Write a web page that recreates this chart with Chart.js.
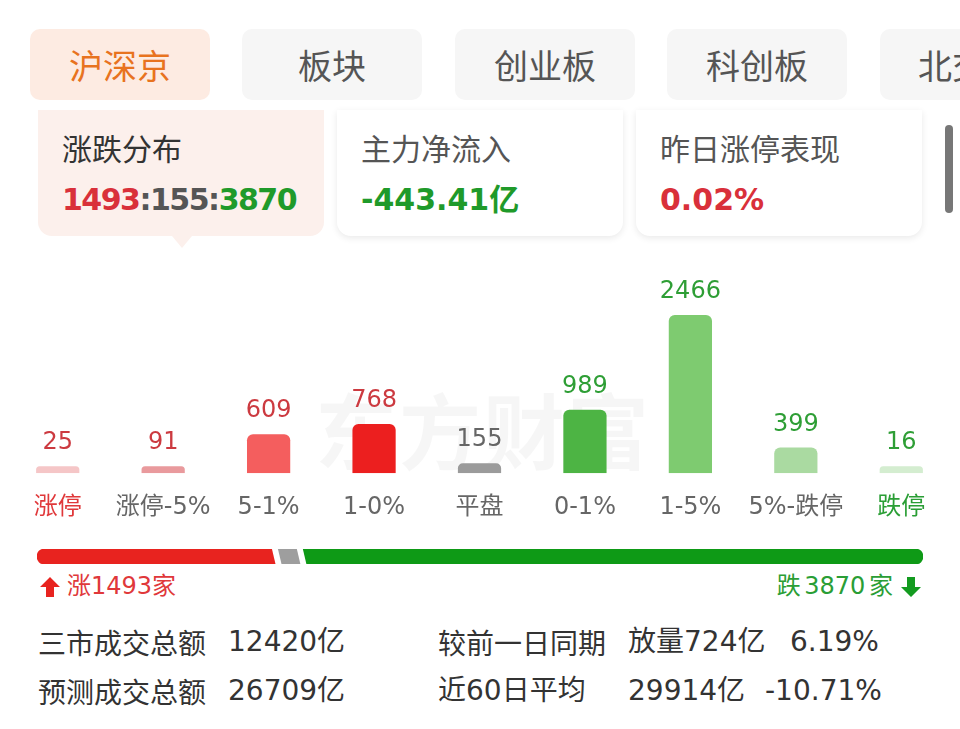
<!DOCTYPE html>
<html>
<head>
<meta charset="utf-8">
<script src="https://cdn.jsdelivr.net/npm/chart.js@4/dist/chart.umd.min.js"></script>
<style>
  html, body { margin: 0; padding: 0; background: #fff; }
  body { width: 960px; height: 729px; position: relative; overflow: hidden;
         font-family: "Noto Sans CJK SC", "Noto Sans", sans-serif; color: #333; }
  .abs { position: absolute; }
  .num { font-family: "DejaVu Sans", "Noto Sans CJK SC", sans-serif; }
  .tab { position: absolute; top: 29px; height: 71px; width: 180px; border-radius: 10px;
         background: #f6f6f6; color: #555; font-size: 34px; line-height: 71px; text-align: center; }
  .tab.on { background: #fdebe2; color: #e8731f; }
  .card { position: absolute; top: 110px; height: 126px; width: 286px; border-radius: 0 0 14px 14px;
          background: #fff; box-shadow: 0 2px 7px rgba(0,0,0,0.09); }
  .card.on { background: #fcf0ec; box-shadow: none; }
  .card .t { position: absolute; left: 24px; top: 18px; font-size: 30px; line-height: 38px; color: #555; }
  .card.on .t { color: #333; }
  .card .v { position: absolute; left: 24px; top: 70px; font-size: 30px; line-height: 40px; font-weight: 700; }
  .red { color: #d9303a; } .green { color: #1f9a2a; } .grey { color: #555; }
  .row { position: absolute; font-size: 28px; line-height: 34px; color: #333; white-space: nowrap; }
</style>
</head>
<body>
<div class="tab on" style="left:30px">沪深京</div>
<div class="tab" style="left:242px">板块</div>
<div class="tab" style="left:455px">创业板</div>
<div class="tab" style="left:667px">科创板</div>
<div class="tab" style="left:880px;text-align:left;padding-left:38px">北交所</div>

<div class="card on" style="left:38px"><div class="t">涨跌分布</div>
  <div class="v num" style="letter-spacing:-1.5px"><span class="red">1493</span><span class="grey">:155:</span><span class="green">3870</span></div></div>
<div class="abs" style="left:172px;top:236px;width:0;height:0;border-left:10px solid transparent;border-right:10px solid transparent;border-top:12px solid #fcf0ec"></div>
<div class="card" style="left:337px"><div class="t">主力净流入</div><div class="v num green">-443.41亿</div></div>
<div class="card" style="left:636px"><div class="t">昨日涨停表现</div><div class="v num red">0.02%</div></div>
<div class="abs" style="left:945px;top:125px;width:8px;height:88px;border-radius:4px;background:#777"></div>

<div class="abs" style="left:315px;top:368px;font-size:82px;font-weight:700;color:rgba(0,0,0,0.035);letter-spacing:2px">东方财富</div>
<div class="abs" style="left:0;top:270px;width:960px;height:282px"><canvas id="dist"></canvas></div>

<div class="abs" style="left:37px;top:549px;width:886px;height:15px"><canvas id="breadth"></canvas></div>
<svg class="abs" style="left:39px;top:576px" width="22" height="22" viewBox="0 0 22 22"><path d="M11 1 L21 11 L15 11 L15 21 L7 21 L7 11 L1 11 Z" fill="#e8231f"/></svg>
<div class="row num" style="left:67px;top:569px;font-size:24px;color:#e0383a">涨1493家</div>
<div class="row num" style="right:67px;top:569px;font-size:24px;color:#2a9e35;word-spacing:-4px">跌 3870 家</div>
<svg class="abs" style="left:900px;top:576px" width="22" height="22" viewBox="0 0 22 22"><path d="M11 21 L21 11 L15 11 L15 1 L7 1 L7 11 L1 11 Z" fill="#139b1f"/></svg>

<div class="row" style="left:38px;top:625px">三市成交总额</div>
<div class="row num" style="left:228px;top:625px">12420亿</div>
<div class="row" style="left:438px;top:625px">较前一日同期</div>
<div class="row num red" style="left:628px;top:625px">放量724亿</div>
<div class="row num red" style="left:790px;top:625px">6.19%</div>
<div class="row" style="left:38px;top:674px">预测成交总额</div>
<div class="row num" style="left:228px;top:674px">26709亿</div>
<div class="row num" style="left:438px;top:674px">近60日平均</div>
<div class="row num" style="left:628px;top:674px">29914亿</div>
<div class="row num green" style="left:765px;top:674px">-10.71%</div>

<script>
const categories = ['涨停', '涨停-5%', '5-1%', '1-0%', '平盘', '0-1%', '1-5%', '5%-跌停', '跌停'];
const counts = [25, 91, 609, 768, 155, 989, 2466, 399, 16];
const barColors = ['#f5c6c7', '#e99a9d', '#f45e5e', '#ec1f1f', '#9b9b9b', '#4db444', '#7ecb70', '#aadaa1', '#d4edd0'];
const valueColors = ['#cc3a40', '#cc3a40', '#cc3a40', '#cc3a40', '#666', '#2e9e35', '#2e9e35', '#2e9e35', '#2e9e35'];
const labelColors = ['#e0383a', '#666', '#666', '#666', '#666', '#666', '#666', '#666', '#2a9e35'];

const breadthLabels = ['涨', '平', '跌'];
const breadthCounts = [1493, 155, 3870];
const breadthColors = ['#e8231f', '#9e9e9e', '#0e9a16'];

const FONT = '"DejaVu Sans", "Noto Sans CJK SC", sans-serif';

const valueLabels = {
  id: 'valueLabels',
  afterDatasetsDraw(chart) {
    const ctx = chart.ctx;
    const meta = chart.getDatasetMeta(0);
    ctx.save();
    ctx.font = '24px ' + FONT;
    ctx.textAlign = 'center';
    ctx.textBaseline = 'middle';
    meta.data.forEach((bar, i) => {
      ctx.fillStyle = valueColors[i];
      ctx.fillText(String(counts[i]), bar.x, bar.y - 23);
    });
    ctx.restore();
  },
};

new Chart(document.getElementById('dist'), {
  type: 'bar',
  data: {
    labels: categories,
    datasets: [{
      data: counts,
      backgroundColor: barColors,
      borderRadius: { topLeft: 6, topRight: 6, bottomLeft: 0, bottomRight: 0 },
      borderSkipped: 'start',
      barPercentage: 0.41,
      categoryPercentage: 1,
      minBarLength: 7,
    }],
  },
  options: {
    responsive: true,
    maintainAspectRatio: false,
    animation: false,
    layout: { padding: { top: 45, left: 5, right: 6, bottom: 10 } },
    scales: {
      x: {
        grid: { display: false, drawTicks: false },
        border: { display: false },
        ticks: {
          padding: 20,
          maxRotation: 0,
          autoSkip: false,
          font: { size: 24, family: FONT },
          color: (c) => labelColors[c.index],
        },
      },
      y: { display: false, min: 0, max: Math.max(...counts) },
    },
    plugins: {
      legend: { display: false },
      tooltip: { enabled: false },
    },
  },
  plugins: [valueLabels],
});

// white slanted gaps between the segments of the breadth bar
const separators = {
  id: 'separators',
  afterDatasetsDraw(chart) {
    const ctx = chart.ctx;
    const x = chart.scales.x;
    const { top, bottom } = chart.chartArea;
    let sum = 0;
    ctx.save();
    ctx.fillStyle = '#fff';
    for (let i = 0; i < breadthCounts.length - 1; i++) {
      sum += breadthCounts[i];
      const b = x.getPixelForValue(sum);
      ctx.beginPath();
      ctx.moveTo(b - 5, top - 1);
      ctx.lineTo(b + 1, top - 1);
      ctx.lineTo(b + 5, bottom + 1);
      ctx.lineTo(b - 1, bottom + 1);
      ctx.closePath();
      ctx.fill();
    }
    ctx.restore();
  },
};

new Chart(document.getElementById('breadth'), {
  type: 'bar',
  data: {
    labels: [''],
    datasets: breadthCounts.map((v, i) => ({
      label: breadthLabels[i],
      data: [v],
      backgroundColor: breadthColors[i],
      borderSkipped: false,
      borderRadius: i === 0 ? { topLeft: 8, bottomLeft: 8, topRight: 0, bottomRight: 0 }
        : i === breadthCounts.length - 1 ? { topLeft: 0, bottomLeft: 0, topRight: 8, bottomRight: 8 } : 0,
      barPercentage: 1,
      categoryPercentage: 1,
    })),
  },
  options: {
    indexAxis: 'y',
    responsive: true,
    maintainAspectRatio: false,
    animation: false,
    layout: { padding: 0 },
    scales: {
      x: { display: false, stacked: true, min: 0, max: breadthCounts.reduce((a, b) => a + b, 0) },
      y: { display: false, stacked: true },
    },
    plugins: {
      legend: { display: false },
      tooltip: { enabled: false },
    },
  },
  plugins: [separators],
});
</script>
</body>
</html>
